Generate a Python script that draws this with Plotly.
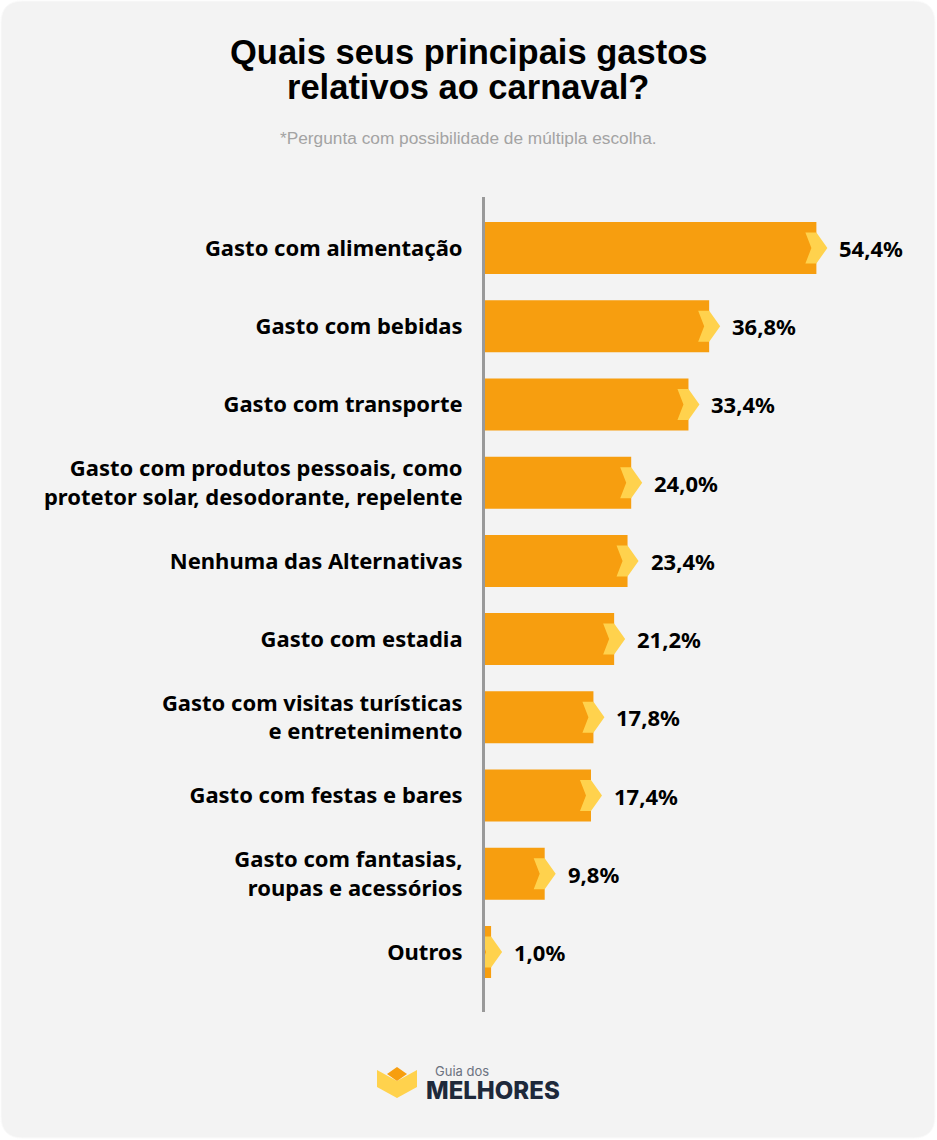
import plotly.graph_objects as go

categorias = [
    'Gasto com alimentação',
    'Gasto com bebidas',
    'Gasto com transporte',
    'Gasto com produtos pessoais, como<br>protetor solar, desodorante, repelente',
    'Nenhuma das Alternativas',
    'Gasto com estadia',
    'Gasto com visitas turísticas<br>e entretenimento',
    'Gasto com festas e bares',
    'Gasto com fantasias,<br>roupas e acessórios',
    'Outros',
]
valores = [54.4, 36.8, 33.4, 24.0, 23.4, 21.2, 17.8, 17.4, 9.8, 1.0]
rotulos = ['54,4%', '36,8%', '33,4%', '24,0%', '23,4%', '21,2%', '17,8%', '17,4%', '9,8%', '1,0%']

LARANJA = '#F79E0F'
AMARELO = '#FFD24D'
FUNDO = '#F3F3F3'
W, H = 937, 1140
ML = 485
MT = 197
MB = H - 1012


def px(pontos):
    # pixels da pagina -> pixels relativos ao canto superior esquerdo do plot
    return 'M' + ' L'.join(f'{x - ML},{MT - y}' for x, y in pontos) + ' Z'


def forma_pagina(path, cor, linha=None):
    return dict(type='path', xref='paper', yref='paper', xsizemode='pixel', ysizemode='pixel',
                xanchor=0, yanchor=1, path=path, fillcolor=cor, layer='below',
                line=dict(color=linha or cor, width=1 if linha else 0))


def texto_pagina(x, y, texto, fonte):
    # annotations em paper sao relativas ao plot: converte de pagina para plot
    return dict(x=(x - ML) / (W - ML), y=1 - (y - MT) / (H - MT - MB), text=texto, showarrow=False,
                xref='paper', yref='paper', xanchor='center', yanchor='middle', font=fonte)


fig = go.Figure(go.Bar(x=valores, y=categorias, orientation='h', marker_color=LARANJA,
                       marker_line_width=0, hoverinfo='skip'))

formas = []
# cartao de fundo com cantos arredondados
r = 22
x0, y0, x1, y1 = 1, 1, 935, 1138
cartao = (f'M{x0 + r - ML},{MT - y0} L{x1 - r - ML},{MT - y0} Q{x1 - ML},{MT - y0} {x1 - ML},{MT - y0 - r} '
          f'L{x1 - ML},{MT - y1 + r} Q{x1 - ML},{MT - y1} {x1 - r - ML},{MT - y1} '
          f'L{x0 + r - ML},{MT - y1} Q{x0 - ML},{MT - y1} {x0 - ML},{MT - y1 + r} '
          f'L{x0 - ML},{MT - y0 - r} Q{x0 - ML},{MT - y0} {x0 + r - ML},{MT - y0} Z')
formas.append(forma_pagina(cartao, FUNDO, '#FAFAFA'))

# logo
formas.append(forma_pagina(px([(377, 1070), (397, 1081), (417, 1070), (417, 1087), (397, 1098), (377, 1087)]), AMARELO))
formas.append(forma_pagina(px([(397, 1067), (407, 1074), (397, 1081), (387, 1074)]), LARANJA))

# setas no fim de cada barra
for c, v in zip(categorias, valores):
    formas.append(dict(type='path', xref='x', yref='y', xsizemode='pixel', ysizemode='pixel',
                       xanchor=v, yanchor=c, layer='above', fillcolor=AMARELO, line_width=0,
                       path='M-11,15.5 L0,15.5 L11,0 L0,-15.5 L-11,-15.5 L-5,0 Z'))

notas = [dict(x=v, y=c, text=t, xref='x', yref='y', xanchor='left', yanchor='middle', xshift=21,
              showarrow=False, font=dict(family='Noto Sans', size=22, color='#000000', weight=700))
         for c, v, t in zip(categorias, valores, rotulos)]
titulo_fonte = dict(family='Liberation Sans', size=34.5, color='#000000', weight=700)
notas += [
    texto_pagina(468, 52, 'Quais seus principais gastos', titulo_fonte),
    texto_pagina(468, 87, 'relativos ao carnaval?', titulo_fonte),
    texto_pagina(468, 138, '*Pergunta com possibilidade de múltipla escolha.',
                 dict(family='Liberation Sans', size=17.3, color='#A3A3A3')),
    texto_pagina(462, 1071, 'Guia dos', dict(family='Inter', size=13, color='#6B7280')),
    texto_pagina(493, 1090, 'MELHORES', dict(family='Inter', size=24, color='#1E293B', weight=800)),
]

fig.update_layout(
    width=W, height=H,
    margin=dict(l=ML, r=0, t=MT, b=MB, pad=0),
    paper_bgcolor='#FFFFFF', plot_bgcolor='rgba(0,0,0,0)',
    showlegend=False, bargap=0.335,
    shapes=formas, annotations=notas,
)
fig.update_xaxes(range=[0, 74.2], visible=False, fixedrange=True)
fig.update_yaxes(type='category', categoryorder='array', categoryarray=categorias,
                 range=[9.767, -0.652], showline=True, linecolor='#999999', linewidth=3,
                 showgrid=False, zeroline=False, ticks='', ticklabelstandoff=15, fixedrange=True,
                 tickfont=dict(family='Noto Sans', size=22, color='#000000', weight=700))

fig.write_html('out.html', config={'displayModeBar': False},
               post_script="document.body.style.margin='0';window.dispatchEvent(new Event('resize'));")
